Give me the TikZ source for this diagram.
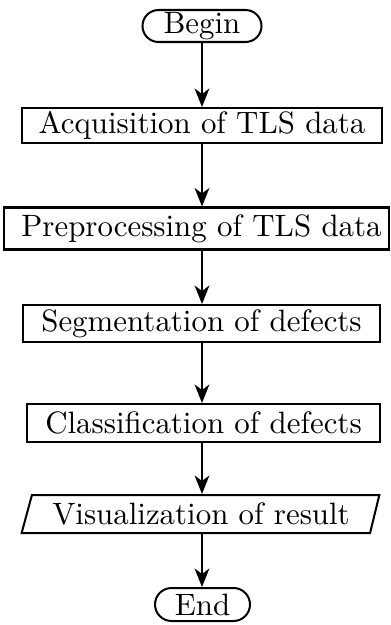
\documentclass[tikz,border=0pt]{standalone}
\usetikzlibrary{arrows.meta,shapes.geometric,shapes.misc}
\def\PX{0.3236pt}
\begin{document}
\begin{tikzpicture}[x=0.3236pt,y=-0.3236pt,
  base/.style={draw, line width=0.65pt, inner sep=0pt},
  box/.style={base, rectangle},
  term/.style={base, rounded rectangle},
  io/.style={base, trapezium, trapezium left angle=68, trapezium right angle=110, trapezium stretches=true},
  arr/.style={line width=0.65pt, -{Stealth[length=6pt,width=4.8pt,inset=1.8pt]}}]
\useasboundingbox (0,0) rectangle (391,625);
\node[term, minimum width=119*\PX, minimum height=32*\PX] (begin) at (202,26) {Begin};
\node[box, minimum width=360*\PX, minimum height=35*\PX] (acq) at (202,125.5) {Acquisition of TLS data};
\node[box, minimum width=385*\PX, minimum height=42*\PX] (prep) at (196.5,228.5) {\hspace*{3.24pt}Preprocessing of TLS data};
\node[box, minimum width=357*\PX, minimum height=37*\PX] (seg) at (201.5,323.5) {Segmentation of defects};
\node[box, minimum width=353*\PX, minimum height=38*\PX] (cls) at (203.5,423) {Classification of defects};
\node[io, minimum width=358*\PX, minimum height=38*\PX] (vis) at (201,514) {Visualization of result};
\node[term, minimum width=95*\PX, minimum height=33*\PX] (end) at (202.5,604.5) {End};
\draw[arr] (begin.south) -- (begin.south |- acq.north);
\draw[arr] (acq.south -| begin) -- (prep.north -| begin);
\draw[arr] (prep.south -| begin) -- (seg.north -| begin);
\draw[arr] (seg.south -| begin) -- (cls.north -| begin);
\draw[arr] (cls.south -| begin) -- (vis.north -| begin);
\draw[arr] (vis.south -| begin) -- (end.north -| begin);
\end{tikzpicture}
\end{document}
